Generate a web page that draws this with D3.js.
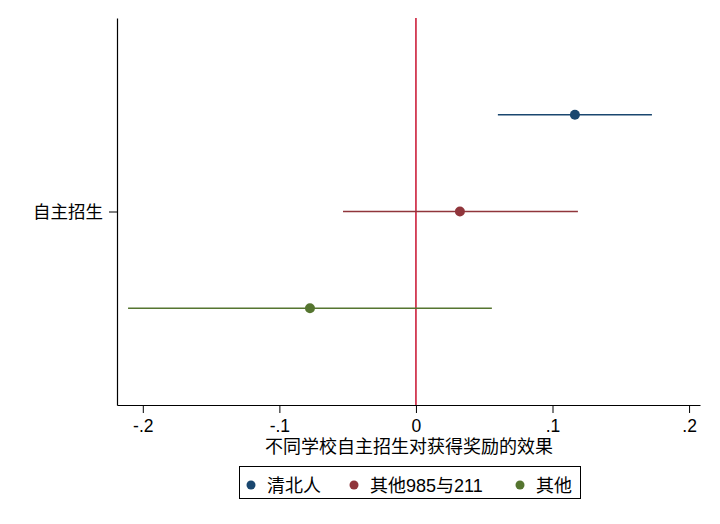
<!DOCTYPE html>
<html><head><meta charset="utf-8">
<script src="https://cdn.jsdelivr.net/npm/d3@7"></script>
<style>
body{margin:0;background:#fff;}
text{font-family:"Liberation Sans","Noto Sans CJK SC",Arial,sans-serif;}
</style></head>
<body><svg id="c" width="720" height="524"></svg>
<script>
const category = "自主招生";
const seriesNames = ["清北人", "其他985与211", "其他"];
const estimates = [0.1164, 0.0322, -0.0776];
const lower = [0.0600, -0.0534, -0.2108];
const upper = [0.1728, 0.1186, 0.0556];
const seriesColors = ["#1a476f", "#90353b", "#55752f"];
const xTicks = [-0.2, -0.1, 0, 0.1, 0.2];
const xTickLabels = ["-.2", "-.1", "0", ".1", ".2"];
const xTitle = "不同学校自主招生对获得奖励的效果";

(function () {
const svg = d3.select("#c");
const pLeft = 117, pRight = 700, pTop = 18, pBottom = 405;
const x = d3.scaleLinear().domain([-0.2189, 0.2080]).range([pLeft, pRight]);
const y = d3.scaleLinear().domain([0, 4]).range([pTop, pBottom]);

const xAxis = d3.axisBottom(x).tickValues(xTicks).tickFormat((d, i) => xTickLabels[i]).tickSizeInner(8).tickSizeOuter(0).tickPadding(7);
const gx = svg.append("g").attr("transform", `translate(0,${pBottom})`).call(xAxis);
gx.select(".domain").attr("stroke", "#000").attr("stroke-width", 1.2);
gx.selectAll(".tick line").attr("stroke", "#000");
gx.selectAll(".tick text").attr("font-size", 17.5).attr("fill", "#000");

const yAxis = d3.axisLeft(y).tickValues([2]).tickFormat(() => category).tickSizeInner(8).tickSizeOuter(0).tickPadding(6);
const gy = svg.append("g").attr("transform", `translate(${pLeft},0)`).call(yAxis);
gy.select(".domain").attr("stroke", "#000").attr("stroke-width", 1.2);
gy.selectAll(".tick line").attr("stroke", "#000");
gy.selectAll(".tick text").attr("font-size", 17.5).attr("fill", "#000");

svg.append("text").attr("x", 409).attr("y", 453).attr("text-anchor", "middle")
  .attr("font-size", 18).attr("fill", "#000").text(xTitle);

svg.append("line").attr("x1", x(0)).attr("x2", x(0)).attr("y1", y(0)).attr("y2", y(4))
  .attr("stroke", "#c8102e").attr("stroke-width", 1.5);

const data = seriesNames.map((n, i) => ({n, est: estimates[i], lo: lower[i], hi: upper[i], c: seriesColors[i], pos: i + 1}));
svg.selectAll("line.ci").data(data).join("line").attr("class", "ci")
  .attr("x1", d => x(d.lo)).attr("x2", d => x(d.hi)).attr("y1", d => y(d.pos)).attr("y2", d => y(d.pos))
  .attr("stroke", d => d.c).attr("stroke-width", 1.6);
svg.selectAll("circle.pt").data(data).join("circle").attr("class", "pt")
  .attr("cx", d => x(d.est)).attr("cy", d => y(d.pos)).attr("r", 5).attr("fill", d => d.c);

const lg = svg.append("g");
lg.append("rect").attr("x", 239.5).attr("y", 466.5).attr("width", 341).attr("height", 32)
  .attr("fill", "#fff").attr("stroke", "#000").attr("stroke-width", 1);
const legX = [251, 354, 520];
data.forEach((d, i) => {
  lg.append("circle").attr("cx", legX[i]).attr("cy", 485).attr("r", 4.5).attr("fill", d.c);
  lg.append("text").attr("x", legX[i] + 16).attr("y", 491.5).attr("font-size", 18).attr("fill", "#000").text(d.n);
});
})();
</script></body></html>
